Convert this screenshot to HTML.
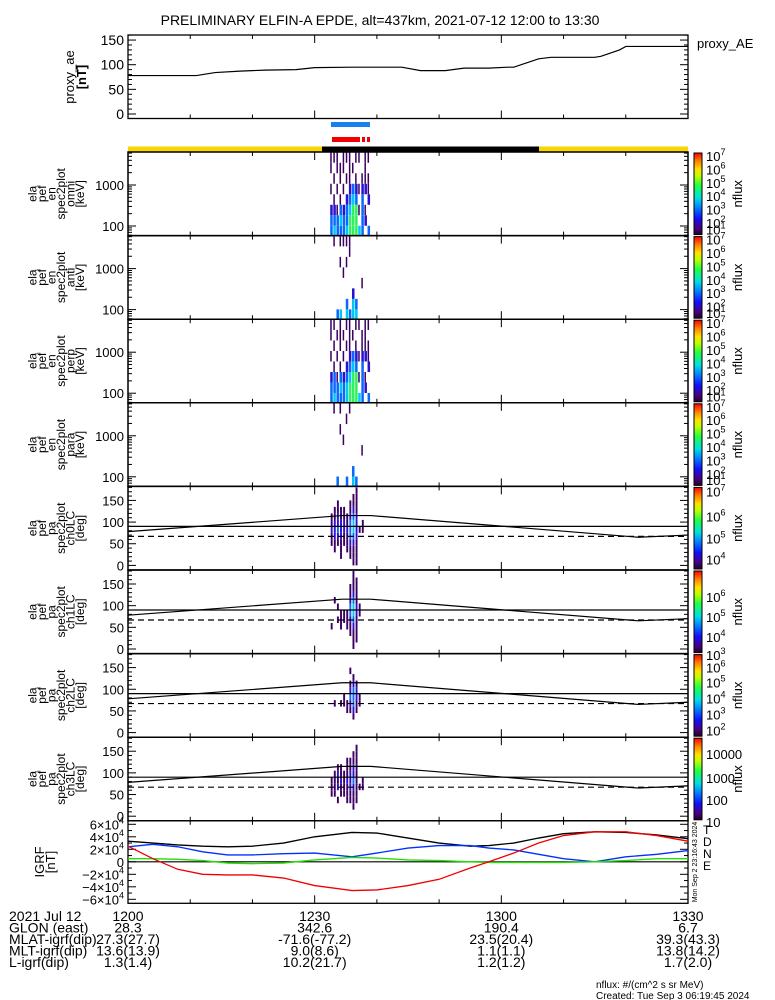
<!DOCTYPE html>
<html><head><meta charset="utf-8"><style>
html,body{margin:0;padding:0;background:#fff;}
svg{display:block;font-family:"Liberation Sans",sans-serif;}
text{fill:#000;}
</style></head><body>
<svg id="fig" width="775" height="1000" viewBox="0 0 775 1000" xmlns="http://www.w3.org/2000/svg">
<defs>
<linearGradient id="rainbow" x1="0" y1="1" x2="0" y2="0">
<stop offset="0" stop-color="#20002a"/><stop offset="0.08" stop-color="#4a0080"/>
<stop offset="0.2" stop-color="#1010ff"/><stop offset="0.35" stop-color="#0090ff"/>
<stop offset="0.45" stop-color="#00e0e0"/><stop offset="0.6" stop-color="#20ff40"/>
<stop offset="0.72" stop-color="#c0ff00"/><stop offset="0.8" stop-color="#ffe000"/>
<stop offset="0.9" stop-color="#ff8000"/><stop offset="1" stop-color="#ff0000"/>
</linearGradient>
</defs>
<text x="380" y="25" text-anchor="middle" font-size="14">PRELIMINARY ELFIN-A EPDE, alt=437km, 2021-07-12 12:00 to 13:30</text>
</svg>
<script>
// ---------- data ----------
const aeTimes = [0, 11, 14, 18, 22, 27, 30, 36, 44, 47, 51, 54, 58, 61, 62, 66, 68, 75, 76, 79, 80, 90];
const aeValues = [78, 78, 84, 87, 89, 90, 94, 95, 95, 88, 88, 93, 93, 95, 95, 112, 115, 115, 117, 130, 137, 137];
const aeTicks = [0, 50, 100, 150];
const timeTickLabels = ["1200", "1230", "1300", "1330"];
const specStart = 32.5, specStep = 0.5;
// columns of log10(flux) per energy bin (low->high)
const omniFlux = [
[3,3,2,0,1,0,1,1],[4,3,2,1,0,1,0,1],[3,3,1,0,1,0,1,1],[3,4,3,1,0,1,1,0],[3,3,2,0,1,0,1,1],
[4,3,3,2,0,1,0,1],[5,5,4,3,2,1,1,1],[5,5,5,4,3,0,1,0],[5,5,5,3,2,1,0,1],[4,0,1,0,1,0,0,1],
[3,3,3,3,2,1,0,0],[0,2,1,0,2,1,1,1],[3,0,0,2,1,1,0,1]];
const antiFlux = [
[0,0,0,0,0,0,0,0],[0,0,0,0,0,0,0,1],[3,0,0,0,0,0,0,0],[4,0,0,0,0,1,0,1],[0,0,0,0,1,0,0,1],
[4,3,0,0,0,1,0,1],[3,0,0,0,0,0,1,1],[4,4,2,0,0,0,0,0],[4,3,0,0,0,0,0,0],[0,0,0,0,0,0,0,0],
[0,0,0,1,0,0,0,0],[0,0,0,0,0,0,0,0],[0,0,0,0,0,0,0,0]];
const perpFlux = [
[3,3,2,0,1,0,1,1],[4,3,3,1,0,1,0,1],[3,3,1,0,1,0,1,0],[3,4,3,1,0,1,1,1],[3,3,2,0,1,0,1,0],
[4,4,3,2,0,1,0,1],[5,5,4,3,2,1,1,1],[5,5,5,4,3,0,1,0],[5,5,5,3,2,1,0,1],[4,0,1,0,1,0,0,1],
[3,3,3,3,2,1,1,0],[0,2,1,0,2,1,1,1],[3,0,0,2,1,1,0,1]];
const paraFlux = [
[0,0,0,0,0,0,0,0],[0,0,0,0,0,0,0,1],[3,0,0,0,0,0,0,0],[0,0,0,0,0,1,0,1],[0,0,0,0,1,0,0,0],
[3,0,0,0,0,0,1,0],[0,0,0,0,0,0,0,1],[4,3,0,0,0,0,0,0],[3,0,0,0,0,0,0,0],[0,0,0,0,0,0,0,0],
[0,0,0,1,0,0,0,0],[0,0,0,0,0,0,0,0],[0,0,0,0,0,0,0,0]];
// pitch-angle columns, bins 0..180 step 15
const ch0Flux = [
[0,0,0,1,1,2,1,1,0,0,0,0],[0,0,1,1,2,2,2,1,1,0,0,0],[0,0,0,1,2,3,2,2,1,1,0,0],[0,1,1,1,2,2,2,1,1,0,0,0],
[0,0,0,1,1,2,2,1,1,0,0,0],[0,0,1,1,1,2,1,1,0,0,0,0],[0,1,1,2,3,3,3,2,1,1,0,0],[1,1,1,2,3,4,4,3,2,1,1,0],
[1,1,1,1,2,2,2,2,1,1,1,1],[0,0,0,0,0,1,0,0,0,0,0,0],[0,0,0,0,0,1,1,0,0,0,0,0],[0,0,0,0,0,0,0,0,0,0,0,0],[0,0,0,0,0,0,0,0,0,0,0,0]];
const ch1Flux = [
[0,0,0,1,0,0,0,0,0,0,0,0],[0,0,0,0,0,0,0,1,0,0,0,0],[0,0,0,0,1,0,1,0,0,0,0,0],[0,0,0,1,1,1,0,0,0,0,0,0],
[0,0,0,0,1,1,0,0,0,0,0,0],[0,0,0,1,1,1,0,0,0,0,0,0],[0,0,1,1,2,3,3,2,1,1,0,0],[1,1,1,2,3,4,4,3,2,1,1,1],
[0,1,1,1,1,2,2,1,1,1,1,0],[0,0,0,0,0,1,1,0,0,0,0,0],[0,0,0,0,0,0,0,0,0,0,0,0],[0,0,0,0,0,0,0,0,0,0,0,0],[0,0,0,0,0,0,0,0,0,0,0,0]];
const ch2Flux = [
[0,0,0,0,0,0,0,0,0,0,0,0],[0,0,0,0,1,0,0,0,0,0,0,0],[0,0,0,0,0,0,0,0,0,0,0,0],[0,0,0,0,1,0,0,0,0,0,0,0],
[0,0,0,0,1,1,0,0,0,0,0,0],[0,0,0,1,1,0,0,0,0,0,0,0],[0,0,0,1,2,3,2,1,0,1,0,0],[0,0,1,2,3,3,3,2,1,0,0,0],
[0,0,0,1,1,2,2,1,0,0,0,0],[0,0,0,0,1,1,0,0,0,0,0,0],[0,0,0,0,0,0,0,0,0,0,0,0],[0,0,0,0,0,0,0,0,0,0,0,0],[0,0,0,0,0,0,0,0,0,0,0,0]];
const ch3Flux = [
[0,0,0,1,1,1,0,0,0,0,0,0],[0,0,0,1,1,1,1,0,0,0,0,0],[0,0,1,0,2,1,2,1,0,0,0,0],[0,0,0,1,1,2,1,1,0,0,0,0],
[0,0,0,1,1,1,1,0,0,0,0,0],[0,0,1,1,1,2,1,1,1,0,0,0],[0,0,1,1,2,2,2,1,1,0,0,0],[0,1,1,1,2,3,2,2,1,1,0,0],
[0,0,1,1,1,1,1,1,1,1,1,0],[0,0,0,0,1,0,0,0,0,0,0,0],[0,0,0,0,1,1,0,0,0,0,0,0],[0,0,0,0,0,0,0,0,0,0,0,0],[0,0,0,0,0,0,0,0,0,0,0,0]];
const lcTimes = [0, 34.4, 39, 82, 90];
const lcValues = [78, 115, 115, 65, 70];
const dlcValue = 67;
const igrfTimes = [0, 4, 8, 12, 16, 20, 25, 30, 36, 40, 45, 50, 55, 58, 62, 66, 70, 75, 80, 85, 90];
const igrfT = [33, 30, 27, 25, 24, 25, 30, 40, 47, 46, 38, 30, 25, 26, 30, 38, 45, 48, 47, 43, 37];
const igrfD = [25, 5, -12, -20, -21, -21, -26, -38, -46, -45, -38, -28, -10, 0, 14, 30, 42, 48, 48, 42, 33];
const igrfN = [24, 28, 24, 16, 11, 11, 13, 14, 8, 14, 22, 26, 26, 22, 19, 12, 5, 0, 8, 12, 18];
const igrfE = [5, 5, 4, 2, -2, -3, -2, 3, 7, 6, 3, 2, 0, -1, -1, -1, -1, 0, 2, 5, 5];
const posRows = [
 ["2021 Jul 12","1200","1230","1300","1330"],
 ["GLON (east)","28.3","342.6","190.4","6.7"],
 ["MLAT-igrf(dip)","27.3(27.7)","-71.6(-77.2)","23.5(20.4)","39.3(43.3)"],
 ["MLT-igrf(dip)","13.6(13.9)","9.0(8.6)","1.1(1.1)","13.8(14.2)"],
 ["L-igrf(dip)","1.3(1.4)","10.2(21.7)","1.2(1.2)","1.7(2.0)"]];

// ---------- helpers ----------
const NS = "http://www.w3.org/2000/svg";
const svg = document.getElementById("fig");
const X0 = 128, X1 = 688;
function xT(t){ return X0 + t*(X1-X0)/90; }
function mk(tag, attrs, parent){ const e=document.createElementNS(NS,tag); for(const k in attrs) e.setAttribute(k,attrs[k]); (parent||svg).appendChild(e); return e; }
function txt(x,y,s,size,anchor,parent){ const e=mk("text",{x:x,y:y,"font-size":size||13,"text-anchor":anchor||"end"},parent); e.textContent=s; return e; }
const levelColors = ["none","#3a0062","#2a10d0","#0868ff","#00c8f0","#30f060","#e0f000","#ff2000"];
const panelTops = [152,235.6,319.2,402.8,486.4,570,653.6,737.2,820.8];
const PH = 83.6;

function frame(T, name){
  const g = mk("g",{});
  
  
  mk("rect",{x:X0,y:T,width:X1-X0,height:PH,fill:"none",stroke:"#000","stroke-width":1.3},g);
  for(let m=0;m<=90;m+=10){ const x=xT(m); const L=(m%30===0)?8:4;
    mk("line",{x1:x,y1:T+PH,x2:x,y2:T+PH-L,stroke:"#000"},g); mk("line",{x1:x,y1:T,x2:x,y2:T+L,stroke:"#000"},g); }
  return g;
}
function sideLabel(lines, T, name){
  const g=mk("g",{});
  
  
  const cy=T+PH/2; const n=lines.length;
  lines.forEach((s,i)=>{ const x=84-(n-1-i)*9.5; const t=txt(x,cy,s,12,"middle",g); t.setAttribute("transform","rotate(-90 "+x+" "+cy+")"); });
}
function colorbar(T, labels, name){
  const g=mk("g",{});
  
  
  mk("rect",{x:694,y:T+1,width:8,height:PH-2,fill:"url(#rainbow)",stroke:"#000","stroke-width":1},g);
  labels.forEach(l=>{ const t=mk("text",{x:706,y:l[1],"font-size":13,"text-anchor":"start"},g);
    t.appendChild(document.createTextNode(l[0][0]));
    if(l[0][1]){ const s=mk("tspan",{dy:-6,"font-size":9},t); s.textContent=l[0][1]; } });
  const cy=T+PH/2; const n=txt(742,cy,"nflux",13,"middle",g); n.setAttribute("transform","rotate(-90 742 "+cy+")");
}

// ---------- AE panel ----------
(function(){
  const T=35, B=118.5;
  const g=mk("g",{});  
  const yV=v=>114-v*0.493;
  mk("rect",{x:X0,y:T,width:X1-X0,height:B-T,fill:"none",stroke:"#000","stroke-width":1.3},g);
  for(let v=0;v<=160;v+=10){ const y=yV(v); if(y<T) continue; const L=(v%50===0)?8:4;
    mk("line",{x1:X0,y1:y,x2:X0+L,y2:y,stroke:"#000"},g); mk("line",{x1:X1,y1:y,x2:X1-L,y2:y,stroke:"#000"},g); }
  for(let m=0;m<=90;m+=10){ const x=xT(m); const L=(m%30===0)?8:4;
    mk("line",{x1:x,y1:B,x2:x,y2:B-L,stroke:"#000"},g); mk("line",{x1:x,y1:T,x2:x,y2:T+L,stroke:"#000"},g); }
  aeTicks.forEach(v=>{ const t=txt(124,yV(v)+5,String(v),14,"end",g);  });
  const pts=aeTimes.map((t,i)=>xT(t)+","+yV(aeValues[i])).join(" ");
  const pl=mk("polyline",{points:pts,fill:"none",stroke:"#000","stroke-width":1.2},g);
  
  
  const a=txt(74,77,"proxy_ae",13,"middle",g); a.setAttribute("transform","rotate(-90 74 77)");
  const b=txt(86,77,"[nT]",13,"middle",g); b.setAttribute("transform","rotate(-90 86 77)"); b.setAttribute("font-weight","bold");
  const lab=txt(697,48,"proxy_AE",13,"start",g); 
})();

// ---------- indicator bars ----------
(function(){
  let r=mk("rect",{x:331,y:122,width:39,height:5,fill:"#1a80f0"});  
  r=mk("rect",{x:332,y:137,width:28,height:5,fill:"#f00000"});  
  r=mk("rect",{x:362,y:137,width:3,height:5,fill:"#f00000"});  
  r=mk("rect",{x:367,y:137,width:3,height:5,fill:"#f00000"});  
  r=mk("rect",{x:X0,y:146.5,width:X1-X0,height:5.5,fill:"#f8d400"});  
  r=mk("rect",{x:322,y:146.5,width:217,height:5.5,fill:"#000"});  
})();

// ---------- energy spectrogram panels ----------
const eSpecs=[["omni",omniFlux],["anti",antiFlux],["perp",perpFlux],["para",paraFlux]];
const eLabels=[["10","7"],["10","6"],["10","5"],["10","4"],["10","3"],["10","2"],["10","1"]];
eSpecs.forEach((sp,i)=>{
  const T=panelTops[i];
  const yE=le=>T+33-(le-3)*41;
  const g=frame(T,"spectrogram-"+sp[0]);
  sp[1].forEach((col,c)=>{ col.forEach((lv,b)=>{ if(!lv) return;
    const le0=1.75+b*0.256, le1=le0+0.256;
    const w = lv===1 ? 1.5 : xT(specStep)-X0-0.6;
    const r=mk("rect",{x:xT(specStart+c*specStep),y:yE(le1),width:w,height:yE(le0)-yE(le1),fill:levelColors[lv]},g);
    
    
  });});
  mk("rect",{x:X0,y:T,width:X1-X0,height:PH,fill:"none",stroke:"#000","stroke-width":1.3},g);
  for(let d=1;d<=4;d++){ for(let k=1;k<10;k++){ const v=Math.pow(10,d)*k; const y=yE(Math.log10(v)); if(y<T||y>T+PH) continue;
    const L=(k===1)?8:4; mk("line",{x1:X0,y1:y,x2:X0+L,y2:y,stroke:"#000"},g); mk("line",{x1:X1,y1:y,x2:X1-L,y2:y,stroke:"#000"},g);} }
  txt(124,yE(2)+5,"100",13,"end",g); txt(124,yE(3)+5,"1000",13,"end",g);
  sideLabel(["ela","pef","en","spec2plot",sp[0],"[keV]"],T,"ylabel-"+sp[0]);
  colorbar(T, eLabels.map((l,k)=>[l, T+9+k*13.4 - (k===6?7:0)]), "colorbar-"+sp[0]);
});

// ---------- pitch angle panels ----------
const paSpecs=[["ch0LC",ch0Flux,[[["10","7"],0],[["10","6"],25],[["10","5"],47],[["10","4"],68]]],
 ["ch1LC",ch1Flux,[[["10","6"],22],[["10","5"],42],[["10","4"],62],[["10","3"],80]]],
 ["ch2LC",ch2Flux,[[["10","6"],9],[["10","5"],24],[["10","4"],40],[["10","3"],56],[["10","2"],72]]],
 ["ch3LC",ch3Flux,[[["10000",""],12],[["1000",""],36],[["100",""],58],[["10",""],80]]]];
paSpecs.forEach((sp,i)=>{
  const T=panelTops[4+i];
  const yA=a=>T+79-a*0.4333;
  const g=frame(T,"pitch-angle-"+sp[0]);
  sp[1].forEach((col,c)=>{ col.forEach((lv,b)=>{ if(!lv) return;
    const r=mk("rect",{x:xT(specStart+c*specStep)+0.5,y:yA((b+1)*15),width:xT(specStep)-X0-1.2,height:15*0.4333,fill:levelColors[lv]},g);
    
    
  });});
  mk("rect",{x:X0,y:T,width:X1-X0,height:PH,fill:"none",stroke:"#000","stroke-width":1.3},g);
  for(let a=0;a<=180;a+=10){ const y=yA(a); if(y<T) continue; const L=(a%50===0)?8:4;
    mk("line",{x1:X0,y1:y,x2:X0+L,y2:y,stroke:"#000"},g); mk("line",{x1:X1,y1:y,x2:X1-L,y2:y,stroke:"#000"},g); }
  [0,50,100,150].forEach(a=>txt(124,yA(a)+5,String(a),13,"end",g));
  let l=mk("line",{x1:X0,y1:yA(90),x2:X1,y2:yA(90),stroke:"#000","stroke-width":1.2},g);
   
  l=mk("polyline",{points:lcTimes.map((t,k)=>xT(t)+","+yA(lcValues[k])).join(" "),fill:"none",stroke:"#000","stroke-width":1.2},g);
   
  l=mk("line",{x1:X0,y1:yA(dlcValue),x2:X1,y2:yA(dlcValue),stroke:"#000","stroke-width":1.2,"stroke-dasharray":"6,4"},g);
   
  sideLabel(["ela","pef","pa","spec2plot",sp[0],"[deg]"],T,"ylabel-"+sp[0]);
  colorbar(T, sp[2].map(p=>[p[0],T+10+p[1]]), "colorbar-"+sp[0]);
});

// ---------- IGRF panel ----------
(function(){
  const T=820.8, B=T+82.5;
  const yB=v=>T+41-v*0.625;
  const g=mk("g",{});  
  mk("rect",{x:X0,y:T,width:X1-X0,height:B-T,fill:"none",stroke:"#000","stroke-width":1.3},g);
  for(let v=-60;v<=60;v+=10){ const y=yB(v); const L=(v%20===0)?8:4;
    mk("line",{x1:X0,y1:y,x2:X0+L,y2:y,stroke:"#000"},g); mk("line",{x1:X1,y1:y,x2:X1-L,y2:y,stroke:"#000"},g); }
  for(let m=0;m<=90;m+=10){ const x=xT(m); const L=(m%30===0)?8:4;
    mk("line",{x1:x,y1:B,x2:x,y2:B-L,stroke:"#000"},g); mk("line",{x1:x,y1:T,x2:x,y2:T+L,stroke:"#000"},g); }
  [60,40,20,0,-20,-40,-60].forEach(v=>{ const t=mk("text",{x:124,y:yB(v)+5,"font-size":13,"text-anchor":"end"},g);
    if(v===0){t.textContent="0";} else { t.appendChild(document.createTextNode((v<0?"\u2212":"")+Math.abs(v/10)+"\u00d710")); const s=mk("tspan",{dy:-6,"font-size":9},t); s.textContent="4"; } });
  mk("line",{x1:X0,y1:yB(0),x2:X1,y2:yB(0),stroke:"#000","stroke-width":1.2},g);
  const series=[["igrf-T",igrfT,"#000"],["igrf-N",igrfN,"#0030ff"],["igrf-E",igrfE,"#20e000"],["igrf-D",igrfD,"#f00000"]];
  series.forEach(s=>{ const p=mk("polyline",{points:igrfTimes.map((t,k)=>xT(t)+","+yB(s[1][k])).join(" "),fill:"none",stroke:s[2],"stroke-width":1.3},g);
      });
  const a=txt(44,862,"IGRF",13,"middle",g); a.setAttribute("transform","rotate(-90 44 862)");
  const b=txt(55,862,"[nT]",13,"middle",g); b.setAttribute("transform","rotate(-90 55 862)");
  [["T","#000",834],["D","#f00000",846],["N","#0030ff",858],["E","#20e000",870]].forEach(l=>{ const t=txt(703,l[2],l[0],12,"start",g); t.setAttribute("fill",l[1]);  });
  const st=txt(697,862,"Mon Sep  2 23:16:43 2024",7,"middle",g); st.setAttribute("transform","rotate(-90 697 862)");
})();

// ---------- position table ----------
(function(){
  const g=mk("g",{});  
  const cols=[128,314.7,501.3,688];
  posRows.forEach((row,r)=>{ const y=921+r*11.5;
    txt(9,y,row[0],14,"start",g);
    for(let c=1;c<5;c++) txt(cols[c-1],y,row[c],14,"middle",g); });
  txt(596,988,"nflux: #/(cm^2 s sr MeV)",10,"start",g);
  txt(596,999,"Created: Tue Sep  3 06:19:45 2024",10,"start",g);
})();
</script>
</body></html>
